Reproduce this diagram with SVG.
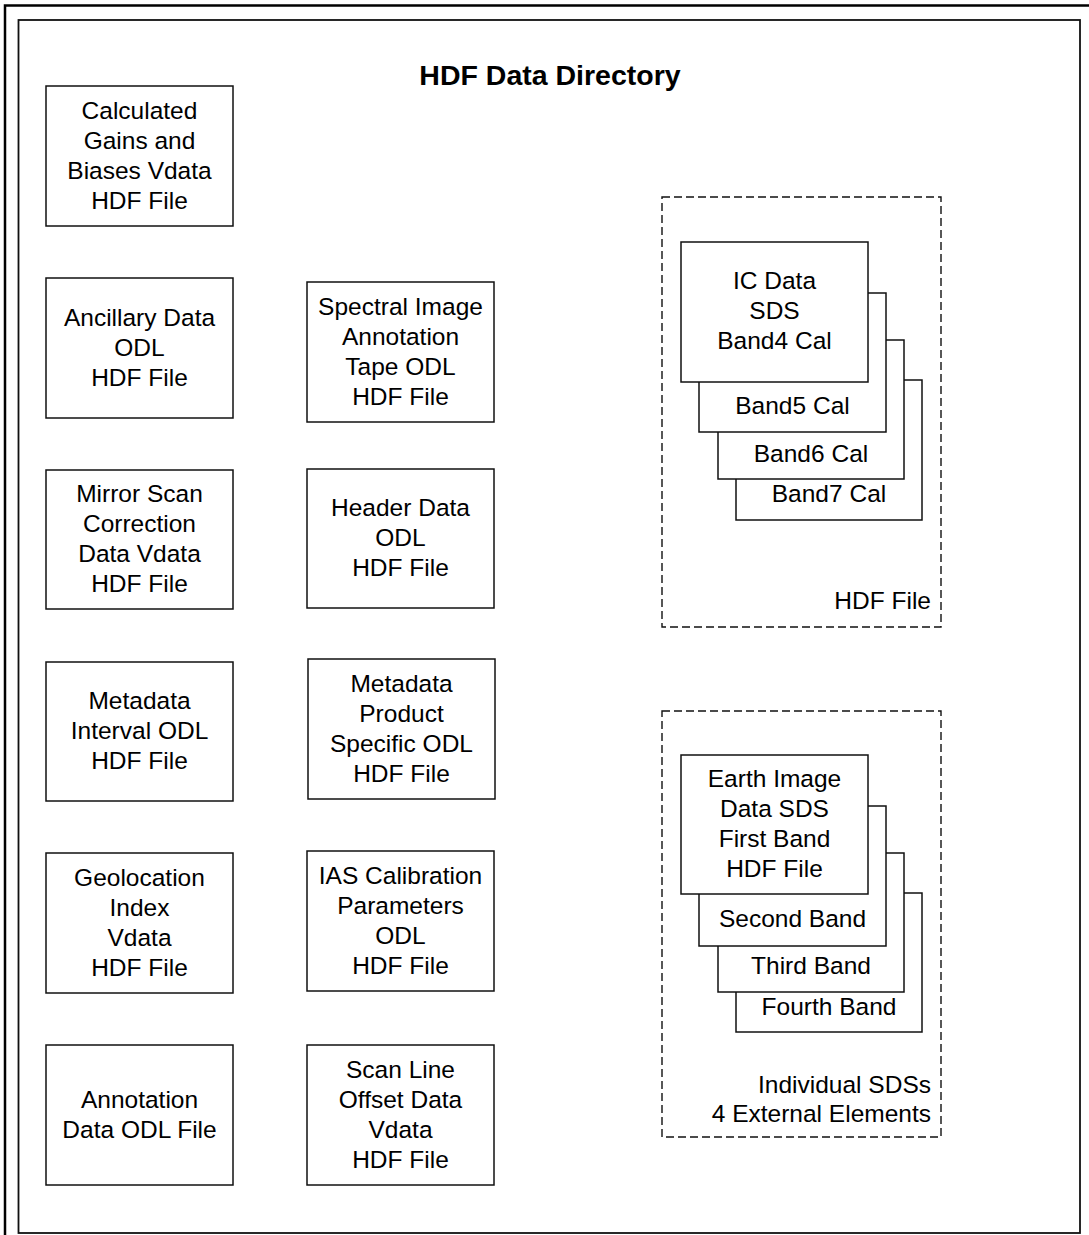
<svg xmlns="http://www.w3.org/2000/svg" width="1089" height="1235" viewBox="0 0 1089 1235">
<style>
.box{fill:#fff;stroke:#111;stroke-width:1.5}
.dash{fill:none;stroke:#111;stroke-width:1.4;stroke-dasharray:8 4}
text{font-family:"Liberation Sans",Arial,sans-serif;font-size:24.5px;fill:#000}
.c{text-anchor:middle}
.e{text-anchor:end}
.title{font-size:28.5px;font-weight:bold;text-anchor:middle}
</style>
<rect width="1089" height="1235" fill="#fff"/>
<g id="frame">
<rect x="5" y="5.5" width="1100" height="1250" fill="none" stroke="#000" stroke-width="2.5"/>
<rect x="18.5" y="20" width="1061.5" height="1213" fill="none" stroke="#111" stroke-width="1.8"/>
<text x="550" y="85" class="title">HDF Data Directory</text>
</g>
<g id="calc-gains">
<rect class="box" x="46" y="86" width="187" height="140"/>
<text class="c" x="139.5" y="119">Calculated</text>
<text class="c" x="139.5" y="149">Gains and</text>
<text class="c" x="139.5" y="179">Biases Vdata</text>
<text class="c" x="139.5" y="209">HDF File</text>
</g>
<g id="ancillary">
<rect class="box" x="46" y="278" width="187" height="140"/>
<text class="c" x="139.5" y="326">Ancillary Data</text>
<text class="c" x="139.5" y="356">ODL</text>
<text class="c" x="139.5" y="386">HDF File</text>
</g>
<g id="spectral">
<rect class="box" x="307" y="282" width="187" height="140"/>
<text class="c" x="400.5" y="315">Spectral Image</text>
<text class="c" x="400.5" y="345">Annotation</text>
<text class="c" x="400.5" y="375">Tape ODL</text>
<text class="c" x="400.5" y="405">HDF File</text>
</g>
<g id="mirror-scan">
<rect class="box" x="46" y="470" width="187" height="139"/>
<text class="c" x="139.5" y="502">Mirror Scan</text>
<text class="c" x="139.5" y="532">Correction</text>
<text class="c" x="139.5" y="562">Data Vdata</text>
<text class="c" x="139.5" y="592">HDF File</text>
</g>
<g id="header">
<rect class="box" x="307" y="469" width="187" height="139"/>
<text class="c" x="400.5" y="516">Header Data</text>
<text class="c" x="400.5" y="546">ODL</text>
<text class="c" x="400.5" y="576">HDF File</text>
</g>
<g id="meta-interval">
<rect class="box" x="46" y="662" width="187" height="139"/>
<text class="c" x="139.5" y="709">Metadata</text>
<text class="c" x="139.5" y="739">Interval ODL</text>
<text class="c" x="139.5" y="769">HDF File</text>
</g>
<g id="meta-product">
<rect class="box" x="308" y="659" width="187" height="140"/>
<text class="c" x="401.5" y="692">Metadata</text>
<text class="c" x="401.5" y="722">Product</text>
<text class="c" x="401.5" y="752">Specific ODL</text>
<text class="c" x="401.5" y="782">HDF File</text>
</g>
<g id="geolocation">
<rect class="box" x="46" y="853" width="187" height="140"/>
<text class="c" x="139.5" y="886">Geolocation</text>
<text class="c" x="139.5" y="916">Index</text>
<text class="c" x="139.5" y="946">Vdata</text>
<text class="c" x="139.5" y="976">HDF File</text>
</g>
<g id="ias-cal">
<rect class="box" x="307" y="851" width="187" height="140"/>
<text class="c" x="400.5" y="884">IAS Calibration</text>
<text class="c" x="400.5" y="914">Parameters</text>
<text class="c" x="400.5" y="944">ODL</text>
<text class="c" x="400.5" y="974">HDF File</text>
</g>
<g id="annotation">
<rect class="box" x="46" y="1045" width="187" height="140"/>
<text class="c" x="139.5" y="1108">Annotation</text>
<text class="c" x="139.5" y="1138">Data ODL File</text>
</g>
<g id="scan-line">
<rect class="box" x="307" y="1045" width="187" height="140"/>
<text class="c" x="400.5" y="1078">Scan Line</text>
<text class="c" x="400.5" y="1108">Offset Data</text>
<text class="c" x="400.5" y="1138">Vdata</text>
<text class="c" x="400.5" y="1168">HDF File</text>
</g>
<g id="hdf-file-group">
<rect class="dash" x="662" y="197" width="279" height="430"/>
<text class="e" x="931" y="609">HDF File</text>
</g>
<g id="band7">
<rect class="box" x="736" y="380" width="186" height="140"/>
<text class="c" x="829" y="502">Band7 Cal</text>
</g>
<g id="band6">
<rect class="box" x="718" y="340" width="186" height="139"/>
<text class="c" x="811" y="462">Band6 Cal</text>
</g>
<g id="band5">
<rect class="box" x="699" y="293" width="187" height="139"/>
<text class="c" x="792.5" y="414">Band5 Cal</text>
</g>
<g id="ic-data">
<rect class="box" x="681" y="242" width="187" height="140"/>
<text class="c" x="774.5" y="289">IC Data</text>
<text class="c" x="774.5" y="319">SDS</text>
<text class="c" x="774.5" y="349">Band4 Cal</text>
</g>
<g id="sds-group">
<rect class="dash" x="662" y="711" width="279" height="426"/>
<text class="e" x="931" y="1093">Individual SDSs</text>
<text class="e" x="931" y="1122">4 External Elements</text>
</g>
<g id="fourth-band">
<rect class="box" x="736" y="893" width="186" height="139"/>
<text class="c" x="829" y="1015">Fourth Band</text>
</g>
<g id="third-band">
<rect class="box" x="718" y="853" width="186" height="139"/>
<text class="c" x="811" y="974">Third Band</text>
</g>
<g id="second-band">
<rect class="box" x="699" y="806" width="187" height="140"/>
<text class="c" x="792.5" y="927">Second Band</text>
</g>
<g id="earth-image">
<rect class="box" x="681" y="755" width="187" height="139"/>
<text class="c" x="774.5" y="787">Earth Image</text>
<text class="c" x="774.5" y="817">Data SDS</text>
<text class="c" x="774.5" y="847">First Band</text>
<text class="c" x="774.5" y="877">HDF File</text>
</g>
<g id="connectors"></g>
</svg>
